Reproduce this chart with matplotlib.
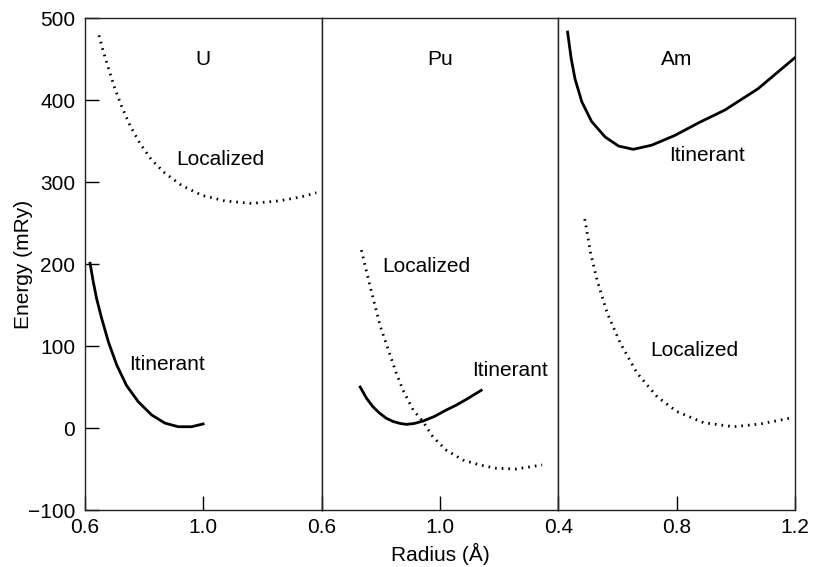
import matplotlib.pyplot as plt

plt.rcParams['font.family'] = ['Liberation Sans', 'DejaVu Sans']
fontsize = 15

# U panel
u_loc_r = [0.647, 0.662, 0.679, 0.701, 0.724, 0.752, 0.786, 0.825, 0.870, 0.926, 0.994,
           1.073, 1.163, 1.253, 1.331, 1.382]
u_loc_e = [479, 459, 439, 414, 392, 369, 347, 327, 311, 296, 284, 277, 274, 277, 282, 287]
u_itn_r = [0.617, 0.628, 0.639, 0.656, 0.679, 0.707, 0.740, 0.780, 0.825, 0.870, 0.915, 0.960, 0.999]
u_itn_e = [201, 178, 158, 134, 105, 77, 52, 32, 16, 6, 1.6, 1.6, 5]

# Pu panel
pu_loc_r = [0.734, 0.764, 0.798, 0.852, 0.875, 0.909, 0.942, 0.976, 1.021, 1.077, 1.133, 1.189, 1.257, 1.345]
pu_loc_e = [217, 172, 124, 67, 46, 22, 8, -11, -27, -39, -45, -49, -50, -45]
pu_itn_r = [0.730, 0.752, 0.773, 0.796, 0.818, 0.841, 0.866, 0.886, 0.912, 0.942, 0.980, 1.021, 1.055, 1.089, 1.139]
pu_itn_e = [50, 36, 26, 18, 12, 8, 5.5, 4.5, 5.5, 8.5, 14, 22, 28, 35, 46]

# Am panel
am_itn_r = [0.431, 0.443, 0.456, 0.479, 0.512, 0.558, 0.603, 0.653, 0.715, 0.794, 0.872, 0.963, 1.075, 1.2]
am_itn_e = [483, 451, 426, 398, 374, 355, 344, 340, 345, 357, 372, 388, 414, 452]
am_loc_r = [0.489, 0.509, 0.531, 0.565, 0.610, 0.666, 0.734, 0.801, 0.891, 0.992, 1.083, 1.196]
am_loc_e = [255, 213, 180, 140, 103, 67, 38, 20, 6.5, 1.6, 5, 13]

elements = ['U', 'Pu', 'Am']
xlims = [(0.6, 1.4), (0.6, 1.4), (0.4, 1.2)]
xticks = [[0.6, 1.0], [0.6, 1.0], [0.4, 0.8, 1.2]]

fig, axes = plt.subplots(1, 3, figsize=(8.13, 5.67), dpi=100, sharey=True)
fig.subplots_adjust(left=0.1046, right=0.978, top=0.968, bottom=0.1005, wspace=0)

dot = (0, (0.6, 1.8))
lw = 2.0

ax = axes[0]
ax.plot(u_loc_r, u_loc_e, color='k', lw=lw, ls=dot)
ax.plot(u_itn_r, u_itn_e, color='k', lw=lw, solid_joinstyle='round')
ax.text(1.058, 328, 'Localized', fontsize=fontsize, ha='center', va='center')
ax.text(0.876, 78, 'Itinerant', fontsize=fontsize, ha='center', va='center')

ax = axes[1]
ax.plot(pu_loc_r, pu_loc_e, color='k', lw=lw, ls=dot)
ax.plot(pu_itn_r, pu_itn_e, color='k', lw=lw, solid_joinstyle='round')
ax.text(0.953, 197, 'Localized', fontsize=fontsize, ha='center', va='center')
ax.text(1.237, 70, 'Itinerant', fontsize=fontsize, ha='center', va='center')

ax = axes[2]
ax.plot(am_itn_r, am_itn_e, color='k', lw=lw, solid_joinstyle='round')
ax.plot(am_loc_r, am_loc_e, color='k', lw=lw, ls=dot)
ax.text(0.903, 333, 'Itinerant', fontsize=fontsize, ha='center', va='center')
ax.text(0.859, 95, 'Localized', fontsize=fontsize, ha='center', va='center')

for ax, name, xl, xt in zip(axes, elements, xlims, xticks):
    ax.set_xlim(*xl)
    ax.set_xticks(xt)
    ax.set_xticklabels(['%.1f' % v for v in xt])
    ax.text(0.5, 0.915, name, transform=ax.transAxes, fontsize=fontsize, ha='center', va='center')
    ax.tick_params(axis='x', direction='in', length=10, width=1, pad=6, labelsize=fontsize)
    ax.tick_params(axis='y', direction='in', length=10, width=1, pad=7, labelsize=fontsize, left=(ax is axes[0]))
    for s in ax.spines.values():
        s.set_color('#222222')
        s.set_linewidth(1)

axes[0].set_ylim(-100, 500)
axes[0].set_yticks([-100, 0, 100, 200, 300, 400, 500])
axes[0].set_yticklabels(['\u2212100', '0', '100', '200', '300', '400', '500'])
axes[0].set_ylabel('Energy (mRy)', fontsize=fontsize)
axes[0].yaxis.set_label_coords(-0.22, 0.5)
axes[1].set_xlabel('Radius (\u00c5)', fontsize=fontsize, labelpad=4)

plt.savefig('out.png', dpi=100)
